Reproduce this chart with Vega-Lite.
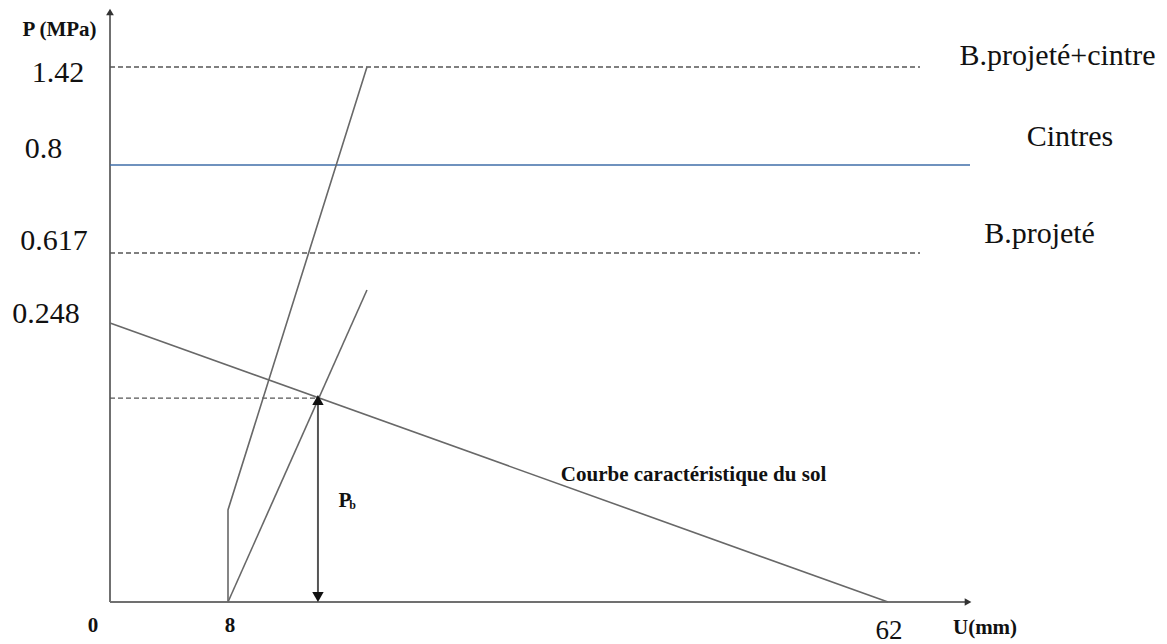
{
  "$schema": "https://vega.github.io/schema/vega-lite/v6.json",
  "width": 1167,
  "height": 644,
  "padding": 0,
  "autosize": {"type": "none"},
  "background": "white",
  "config": {"view": {"stroke": null}},
  "datasets": {
    "axes": [
      {"axis": "P", "u": 0, "p": 0, "u2": 0, "p2": 1.755},
      {"axis": "U", "u": 0, "p": 0, "u2": 68.3, "p2": 0}
    ],
    "axisArrows": [
      {"u": 0, "p": 1.768, "dir": "up"},
      {"u": 68.55, "p": 0, "dir": "right"}
    ],
    "levels": [
      {"name": "B.projeté+cintre", "u": 0, "u2": 64.62, "p": 1.42},
      {"name": "B.projeté", "u": 0, "u2": 64.62, "p": 0.617},
      {"name": "Pb", "u": 0, "u2": 15.36, "p": 0.1813}
    ],
    "cintres": [
      {"name": "Cintres", "u": 0, "u2": 68.71, "p": 0.8}
    ],
    "curves": [
      {"curve": "B.projeté+cintre", "i": 0, "u": 8, "p": 0},
      {"curve": "B.projeté+cintre", "i": 1, "u": 8, "p": 0.0818},
      {"curve": "B.projeté+cintre", "i": 2, "u": 19.37, "p": 1.42},
      {"curve": "B.projeté", "i": 0, "u": 8, "p": 0},
      {"curve": "B.projeté", "i": 1, "u": 19.37, "p": 0.422},
      {"curve": "sol", "i": 0, "u": 0, "p": 0.248},
      {"curve": "sol", "i": 1, "u": 62, "p": 0}
    ],
    "pbShaft": [
      {"u": 15.36, "p": 0.004, "p2": 0.178}
    ],
    "pbArrows": [
      {"u": 15.36, "p": 0.1796, "dir": "up"},
      {"u": 15.36, "p": 0.0044, "dir": "down"}
    ],
    "bigLabels": [
      {"label": "1.42", "u": -3.53, "p": 1.325},
      {"label": "0.8", "u": -4.51, "p": 0.844},
      {"label": "0.617", "u": -3.80, "p": 0.623},
      {"label": "0.248", "u": -4.34, "p": 0.248},
      {"label": "B.projeté+cintre", "u": 75.87, "p": 1.433},
      {"label": "Cintres", "u": 76.89, "p": 0.920},
      {"label": "B.projeté", "u": 74.40, "p": 0.638}
    ],
    "tickLabels": [
      {"label": "62", "u": 62.08, "p": -0.0329}
    ],
    "boldLabels": [
      {"label": "P (MPa)", "u": -3.42, "p": 1.616},
      {"label": "0", "u": -1.15, "p": -0.0267},
      {"label": "8", "u": 8.16, "p": -0.0267},
      {"label": "U(mm)", "u": 69.94, "p": -0.0284},
      {"label": "Courbe caractéristique du sol", "u": 46.09, "p": 0.1076},
      {"label": "P", "u": 17.57, "p": 0.0844}
    ],
    "subLabels": [
      {"label": "b", "u": 18.2, "p": 0.0827}
    ]
  },
  "encoding": {
    "x": {
      "field": "u",
      "type": "quantitative",
      "axis": null,
      "scale": {"domain": [-7.46, 0, 8, 62, 84.83], "range": [0, 110, 228, 888, 1167], "nice": false, "zero": false}
    },
    "y": {
      "field": "p",
      "type": "quantitative",
      "axis": null,
      "scale": {"domain": [-0.0373, 0, 0.248, 0.617, 0.8, 1.42, 1.844], "range": [644, 602, 323, 253, 165, 67, 0], "nice": false, "zero": false}
    }
  },
  "layer": [
    {
      "data": {"name": "axes"},
      "mark": {"type": "rule", "color": "#707070", "strokeWidth": 2},
      "encoding": {"x2": {"field": "u2"}, "y2": {"field": "p2"}}
    },
    {
      "data": {"name": "levels"},
      "mark": {"type": "rule", "color": "#555555", "strokeWidth": 1.3, "strokeDash": [5, 3]},
      "encoding": {"x2": {"field": "u2"}}
    },
    {
      "data": {"name": "cintres"},
      "mark": {"type": "rule", "color": "#3f6ea8", "strokeWidth": 1.5},
      "encoding": {"x2": {"field": "u2"}}
    },
    {
      "data": {"name": "curves"},
      "mark": {"type": "line", "color": "#686868", "strokeWidth": 1.6},
      "encoding": {"detail": {"field": "curve"}, "order": {"field": "i", "type": "quantitative"}}
    },
    {
      "data": {"name": "pbShaft"},
      "mark": {"type": "rule", "color": "#555555", "strokeWidth": 2},
      "encoding": {"y2": {"field": "p2"}}
    },
    {
      "data": {"name": "axisArrows"},
      "mark": {"type": "point", "filled": true, "color": "#333333", "size": 60, "opacity": 1},
      "encoding": {
        "shape": {"field": "dir", "type": "nominal", "legend": null,
          "scale": {"domain": ["up", "right", "down"], "range": ["triangle-up", "triangle-right", "triangle-down"]}}
      }
    },
    {
      "data": {"name": "pbArrows"},
      "mark": {"type": "point", "filled": true, "color": "#111111", "size": 130, "opacity": 1},
      "encoding": {
        "shape": {"field": "dir", "type": "nominal", "legend": null,
          "scale": {"domain": ["up", "right", "down"], "range": ["triangle-up", "triangle-right", "triangle-down"]}}
      }
    },
    {
      "data": {"name": "bigLabels"},
      "mark": {"type": "text", "font": "Liberation Serif", "fontSize": 30, "align": "center", "baseline": "alphabetic", "color": "#111111"},
      "encoding": {"text": {"field": "label"}}
    },
    {
      "data": {"name": "tickLabels"},
      "mark": {"type": "text", "font": "Liberation Serif", "fontSize": 27, "align": "center", "baseline": "alphabetic", "color": "#111111"},
      "encoding": {"text": {"field": "label"}}
    },
    {
      "data": {"name": "boldLabels"},
      "mark": {"type": "text", "font": "Liberation Serif", "fontSize": 21, "fontWeight": "bold", "align": "center", "baseline": "alphabetic", "color": "#111111"},
      "encoding": {"text": {"field": "label"}}
    },
    {
      "data": {"name": "subLabels"},
      "mark": {"type": "text", "font": "Liberation Serif", "fontSize": 12, "fontWeight": "bold", "align": "center", "baseline": "alphabetic", "color": "#111111"},
      "encoding": {"text": {"field": "label"}}
    }
  ]
}
